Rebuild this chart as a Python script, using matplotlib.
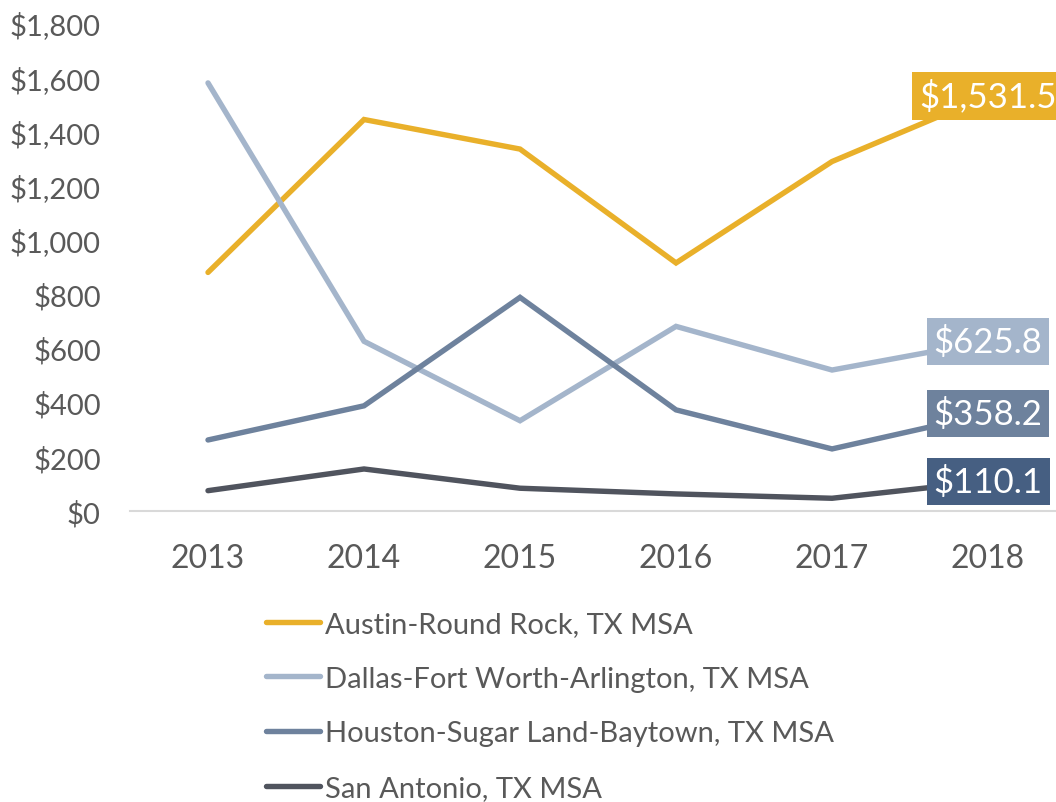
import matplotlib
matplotlib.use("Agg")
import matplotlib.pyplot as plt
from matplotlib.ticker import FuncFormatter

years = ["2013", "2014", "2015", "2016", "2017", "2018"]
austin = [880, 1444, 1335, 915, 1289, 1531.5]
dallas = [1579, 626, 333, 681, 520, 625.8]
houston = [262, 388, 788, 373, 229, 358.2]
san_antonio = [75, 155, 84, 63, 47, 110.1]

series_names = ["Austin-Round Rock, TX MSA",
                "Dallas-Fort Worth-Arlington, TX MSA",
                "Houston-Sugar Land-Baytown, TX MSA",
                "San Antonio, TX MSA"]
line_colors = ["#E9B02A", "#A4B5CB", "#6E829D", "#50545E"]
box_colors = ["#E9B02A", "#A4B5CB", "#6E829D", "#465F82"]

plt.rcParams['font.family'] = ['Lato', 'DejaVu Sans']
text_color = "#595959"

fig = plt.figure(figsize=(10.56, 8.03), dpi=100)
ax = fig.add_axes([130/1056, (803-512)/803, 927/1056, 488/803])

x = list(range(len(years)))
all_series = [austin, dallas, houston, san_antonio]
lines = []
for vals, name, c in zip(all_series, series_names, line_colors):
    ln, = ax.plot(x, vals, color=c, lw=3.9, solid_capstyle='round',
                  solid_joinstyle='miter', label=name, clip_on=False)
    lines.append(ln)

for vals, bc in zip(all_series, box_colors):
    v = vals[-1]
    ax.text(x[-1], v, "${:,.1f}".format(v), ha='center', va='center',
            fontsize=25, color='white', zorder=5, clip_on=False,
            bbox=dict(boxstyle='square,pad=0.2', fc=bc, ec='none'))

ax.set_xlim(-0.5, 5.442)
ax.set_ylim(0, 1800)
ax.set_yticks(range(0, 1801, 200))
ax.yaxis.set_major_formatter(FuncFormatter(lambda v, p: "${:,.0f}".format(v)))
ax.set_xticks(x)
ax.set_xticklabels(years)
ax.tick_params(axis='both', length=0, colors=text_color)
ax.tick_params(axis='x', pad=23, labelsize=23)
ax.tick_params(axis='y', pad=21, labelsize=21)
for s in ['top', 'right', 'left']:
    ax.spines[s].set_visible(False)
ax.spines['bottom'].set_color('#D9D9D9')
ax.spines['bottom'].set_linewidth(1.5)

leg = fig.legend(handles=lines, loc='upper left',
                 bbox_to_anchor=(266/1056, 1 - 612/803), frameon=False,
                 fontsize=21, handlelength=1.85, handletextpad=0.17,
                 labelspacing=0.98, borderaxespad=0, borderpad=0)
for t in leg.get_texts():
    t.set_color(text_color)

fig.savefig("out.png", dpi=100)
